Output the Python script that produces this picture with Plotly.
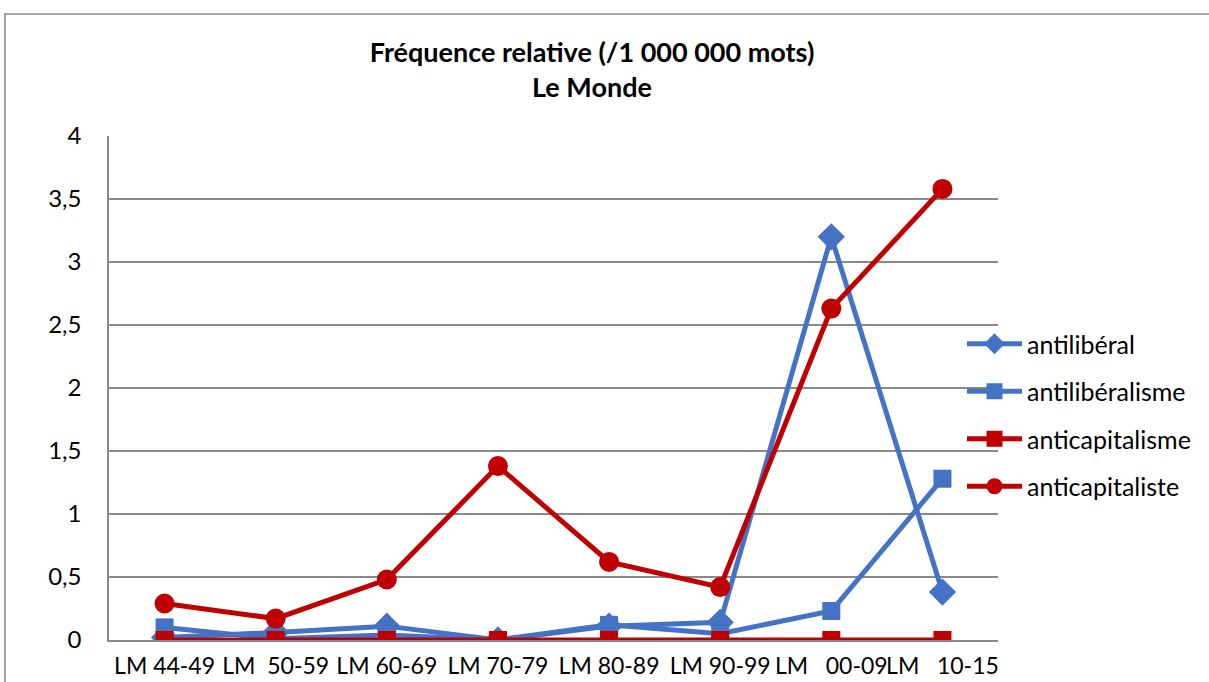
import plotly.graph_objects as go

categories = ["LM 44-49", "LM\u00a0\u00a050-59", "LM 60-69", "LM 70-79", "LM 80-89", "LM 90-99", "LM\u00a0\u00a0\u00a000-09", "LM\u00a0\u00a0\u00a010-15"]
antiliberal = [0.02, 0.06, 0.11, 0.0, 0.11, 0.14, 3.20, 0.38]
antiliberalisme = [0.10, 0.01, 0.04, 0.0, 0.12, 0.05, 0.23, 1.28]
anticapitalisme = [0, 0, 0, 0, 0, 0, 0, 0]
anticapitaliste = [0.29, 0.17, 0.48, 1.38, 0.62, 0.42, 2.63, 3.58]

BLUE = "#4472C4"
RED = "#C00000"
FONT = "Lato"

series = [
    ("antilibéral", antiliberal, BLUE, "diamond", 21),
    ("antilibéralisme", antiliberalisme, BLUE, "square", 18),
    ("anticapitalisme", anticapitalisme, RED, "square", 18),
    ("anticapitaliste", anticapitaliste, RED, "circle", 20),
]

fig = go.Figure()
for i, (name, vals, col, sym, sz) in enumerate(series):
    fig.add_trace(go.Scatter(
        x=categories, y=vals, name=name, mode="lines+markers",
        line=dict(color=col, width=5),
        marker=dict(symbol=sym, size=sz, color=col),
        legendgroup=f"g{i}",
    ))

W, H = 1209, 682
L, R, T, B = 109, 998, 136, 640
fig.update_layout(
    width=W, height=H,
    margin=dict(l=L, r=W - R, t=T, b=H - B, autoexpand=False),
    paper_bgcolor="white", plot_bgcolor="white",
    separators=", ",
    font=dict(family=FONT, size=24, color="#000000"),
    title=dict(
        text="<b>Fréquence relative (/1 000 000 mots)<br>Le Monde</b>",
        x=592 / W, xanchor="center", y=1 - 62 / H, yanchor="middle",
        font=dict(family=FONT, size=27, color="#000000"),
    ),
    legend=dict(
        x=(962 - L) / (R - L), xanchor="left",
        y=(B - 415) / (B - T), yanchor="middle",
        font=dict(family=FONT, size=25),
        tracegroupgap=12, itemwidth=55,
        bgcolor="rgba(0,0,0,0)",
    ),
    showlegend=True,
)
fig.update_xaxes(
    type="category", range=[-0.5, len(categories) - 0.5],
    showgrid=False, showline=True, linecolor="#898989", linewidth=1.5,
    ticks="", tickfont=dict(family=FONT, size=23), ticklabelstandoff=5,
    tickangle=0, automargin=False,
)
fig.update_yaxes(
    range=[0, 4], dtick=0.5, tick0=0, tickformat=".1~f",
    showgrid=True, gridcolor="#898989", gridwidth=1.5,
    showline=True, linecolor="#898989", linewidth=1.5,
    zeroline=False, ticks="", ticklen=0, ticklabelstandoff=21,
    tickfont=dict(family=FONT, size=24), automargin=False,
)
# outer chart border (top and left edges visible)
fig.add_shape(type="rect", xref="paper", yref="paper",
              x0=(5 - L) / (R - L), x1=(1215 - L) / (R - L),
              y0=(B - 700) / (B - T), y1=(B - 14) / (B - T),
              line=dict(color="#898989", width=1.5), layer="below")
fig.write_html("out.html", config={"displayModeBar": False},
               post_script="document.body.style.margin='0px';document.body.style.overflow='hidden';")
